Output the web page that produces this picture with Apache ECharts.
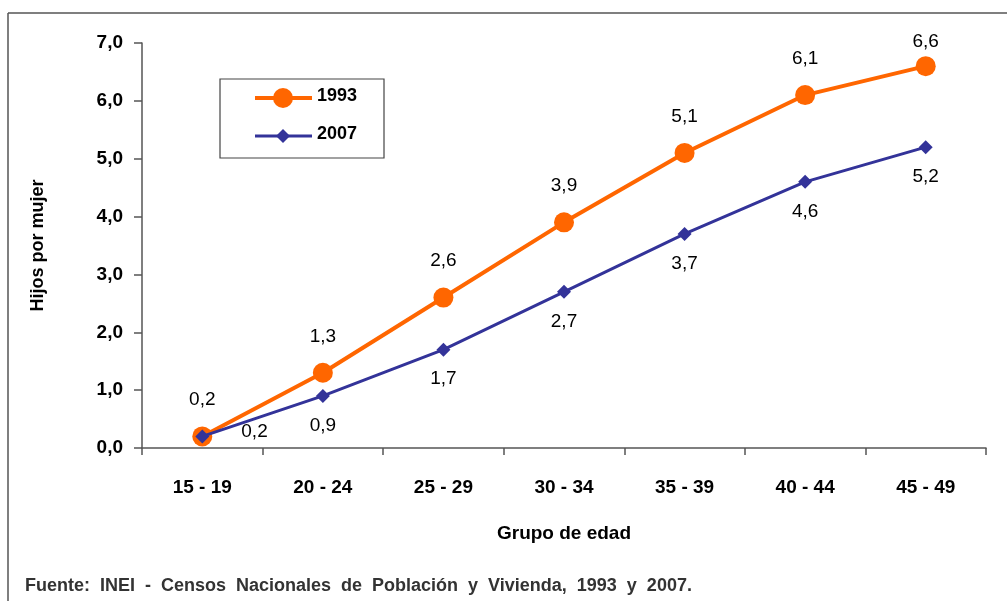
<!DOCTYPE html>
<html>
<head>
<meta charset="utf-8">
<script src="https://cdn.jsdelivr.net/npm/echarts@6/dist/echarts.min.js"></script>
<style>
  html, body { margin: 0; padding: 0; background: #fff; }
  #main { width: 1007px; height: 601px; }
</style>
</head>
<body>
<div id="main"></div>
<script>
// datos
var grupos = ['15 - 19', '20 - 24', '25 - 29', '30 - 34', '35 - 39', '40 - 44', '45 - 49'];
var hijos1993 = [0.2, 1.3, 2.6, 3.9, 5.1, 6.1, 6.6];
var hijos2007 = [0.2, 0.9, 1.7, 2.7, 3.7, 4.6, 5.2];
var yTicks = [0, 1, 2, 3, 4, 5, 6, 7];

var fuenteTxt = 'Fuente:  INEI  -  Censos  Nacionales  de  Población  y  Vivienda,  1993  y  2007.';
var fam = '"Liberation Sans", Arial, sans-serif';
var coma = function (v) { return Number(v).toFixed(1).replace('.', ','); };

var myChart = echarts.init(document.getElementById('main'));

var option = {
    backgroundColor: '#fff',
    animation: false,
    grid: { left: 142, right: 21, top: 43, bottom: 153, containLabel: false },
    legend: { show: false },
    xAxis: {
        type: 'category',
        data: grupos,
        boundaryGap: true,
        name: 'Grupo de edad',
        nameLocation: 'middle',
        nameGap: 76,
        nameTextStyle: { fontFamily: fam, fontWeight: 'bold', fontSize: 19, color: '#000' },
        axisLine: { lineStyle: { color: '#555', width: 1.5 } },
        axisTick: { show: true, length: 7, alignWithLabel: false, lineStyle: { color: '#555', width: 1.5 } },
        axisLabel: { fontFamily: fam, fontWeight: 'bold', fontSize: 19, color: '#000', margin: 30 },
        splitLine: { show: false }
    },
    yAxis: {
        type: 'value',
        min: yTicks[0],
        max: yTicks[yTicks.length - 1],
        interval: 1,
        name: 'Hijos por mujer',
        nameLocation: 'middle',
        nameGap: 95,
        nameRotate: 90,
        nameTextStyle: { fontFamily: fam, fontWeight: 'bold', fontSize: 18, color: '#000' },
        axisLine: { show: true, lineStyle: { color: '#555', width: 1.5 } },
        axisTick: { show: true, length: 8, lineStyle: { color: '#555', width: 1.5 } },
        axisLabel: { fontFamily: fam, fontWeight: 'bold', fontSize: 19, color: '#000', margin: 19, formatter: coma },
        splitLine: { show: false }
    },
    series: [{
        name: '1993',
        type: 'line',
        data: hijos1993.map(function (v, i) {
            // la última etiqueta queda más cerca del punto
            return i === hijos1993.length - 1 ? { value: v, label: { offset: [0, 12] } } : v;
        }),
        symbol: 'circle',
        symbolSize: 20,
        lineStyle: { color: '#FF6600', width: 4 },
        itemStyle: { color: '#FF6600' },
        label: {
            show: true, position: 'top', distance: 17,
            fontFamily: fam, fontSize: 19, color: '#000',
            formatter: function (p) { return coma(p.value); }
        },
        z: 2
    }, {
        name: '2007',
        type: 'line',
        data: hijos2007.map(function (v, i) {
            // el primer valor se etiqueta a la derecha
            return i === 0 ? { value: v, label: { position: 'right', distance: 32, offset: [0, -5] } } : v;
        }),
        symbol: 'diamond',
        symbolSize: 14,
        lineStyle: { color: '#333399', width: 3 },
        itemStyle: { color: '#333399' },
        label: {
            show: true, position: 'bottom', distance: 13,
            fontFamily: fam, fontSize: 19, color: '#000',
            formatter: function (p) { return coma(p.value); }
        },
        z: 3
    }],
    graphic: [
        // marco
        { type: 'line', shape: { x1: 8, y1: 13, x2: 1007, y2: 13 }, style: { stroke: '#555', lineWidth: 1.5 } },
        { type: 'line', shape: { x1: 8, y1: 13, x2: 8, y2: 601 }, style: { stroke: '#555', lineWidth: 1.5 } },
        // leyenda
        { type: 'rect', shape: { x: 220, y: 79, width: 164, height: 79 }, style: { fill: '#fff', stroke: '#444', lineWidth: 1.2 }, z: 10 },
        { type: 'line', shape: { x1: 255, y1: 98, x2: 312, y2: 98 }, style: { stroke: '#FF6600', lineWidth: 4 }, z: 11 },
        { type: 'circle', shape: { cx: 283, cy: 98, r: 10 }, style: { fill: '#FF6600' }, z: 12 },
        { type: 'text', left: 317, top: 87, style: { text: '1993', font: 'bold 18px ' + fam, fill: '#000' }, z: 12 },
        { type: 'line', shape: { x1: 255, y1: 136, x2: 312, y2: 136 }, style: { stroke: '#333399', lineWidth: 3 }, z: 11 },
        { type: 'polygon', shape: { points: [[283, 129], [290, 136], [283, 143], [276, 136]] }, style: { fill: '#333399' }, z: 12 },
        { type: 'text', left: 317, top: 125, style: { text: '2007', font: 'bold 18px ' + fam, fill: '#000' }, z: 12 },
        // fuente
        { type: 'text', left: 25, top: 577, style: { text: fuenteTxt, font: 'bold 18px ' + fam, fill: '#333' } }
    ]
};

myChart.setOption(option);
</script>
</body>
</html>
